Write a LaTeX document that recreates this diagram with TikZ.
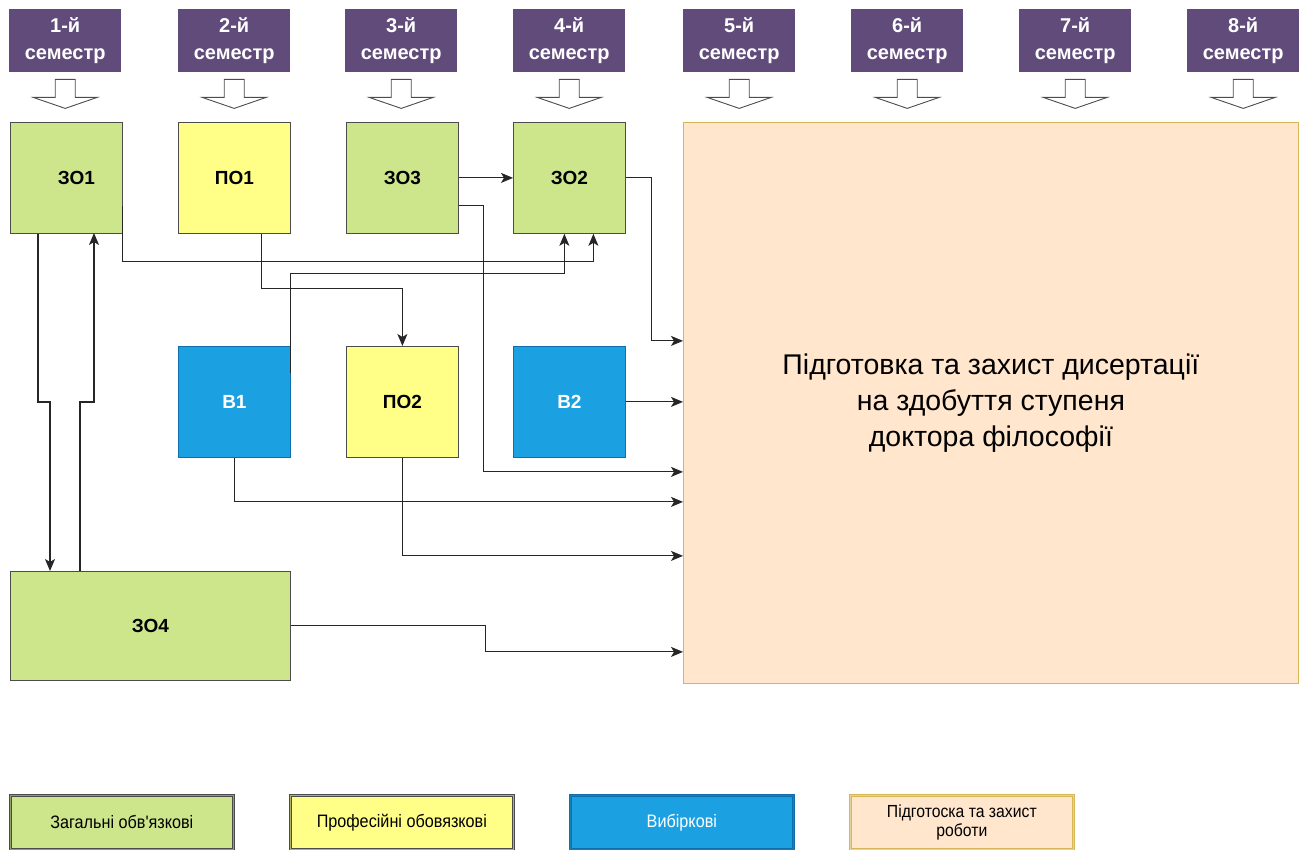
\documentclass[tikz,border=0pt]{standalone}
\usepackage{fontspec}
\setmainfont{Liberation Sans}
\newfontfamily\narrowfont[FakeStretch=0.9]{Liberation Sans}
\usetikzlibrary{arrows.meta,positioning}

\definecolor{semfill}{RGB}{96,75,122}
\definecolor{zofill}{RGB}{205,230,140}
\definecolor{pofill}{RGB}{255,255,136}
\definecolor{vfill}{RGB}{27,161,226}
\definecolor{vborder}{RGB}{16,110,170}
\definecolor{dfill}{RGB}{255,230,204}
\definecolor{dborder}{RGB}{214,182,86}

\begin{document}
\begin{tikzpicture}[x=1pt,y=-1pt,
  sem/.style={fill=semfill,text=white,font=\bfseries\fontsize{20}{27}\selectfont,
    align=center,minimum width=112pt,minimum height=63pt,anchor=north west,inner sep=0pt},
  semarrow/.style={draw=black!70,fill=white,line width=.9pt},
  blk/.style={draw=black!70,line width=.8pt,minimum width=112pt,minimum height=111pt,
    anchor=north west,inner sep=0pt,font=\bfseries\fontsize{19}{22}\selectfont},
  zo/.style={blk,fill=zofill},
  po/.style={blk,fill=pofill},
  vb/.style={blk,fill=vfill,draw=vborder,text=white},
  con/.style={draw=black!85,line width=1.1pt,-{Stealth[length=12pt,width=10pt,inset=3pt]}},
  leg/.style={minimum width=223pt,minimum height=54pt,anchor=north west,inner sep=0pt,
    align=center,line width=.7pt,double distance=1pt,
    font=\narrowfont\fontsize{18}{20}\selectfont}]

  \useasboundingbox (0,0) rectangle (1302,850);

  \node[sem] (s1) at (9,9) {1-й\\семестр};
  \node[sem] (s2) at (178,9) {2-й\\семестр};
  \node[sem] (s3) at (345,9) {3-й\\семестр};
  \node[sem] (s4) at (513,9) {4-й\\семестр};
  \node[sem] (s5) at (683,9) {5-й\\семестр};
  \node[sem] (s6) at (851,9) {6-й\\семестр};
  \node[sem] (s7) at (1019,9) {7-й\\семестр};
  \node[sem] (s8) at (1187,9) {8-й\\семестр};

  \draw[semarrow] (s1.south) ++(-10,7) -- ++(0,18) -- ++(-22,0) -- ++(32,11) -- ++(32,-11) -- ++(-22,0) -- ++(0,-18) -- cycle;
  \draw[semarrow] (s2.south) ++(-10,7) -- ++(0,18) -- ++(-22,0) -- ++(32,11) -- ++(32,-11) -- ++(-22,0) -- ++(0,-18) -- cycle;
  \draw[semarrow] (s3.south) ++(-10,7) -- ++(0,18) -- ++(-22,0) -- ++(32,11) -- ++(32,-11) -- ++(-22,0) -- ++(0,-18) -- cycle;
  \draw[semarrow] (s4.south) ++(-10,7) -- ++(0,18) -- ++(-22,0) -- ++(32,11) -- ++(32,-11) -- ++(-22,0) -- ++(0,-18) -- cycle;
  \draw[semarrow] (s5.south) ++(-10,7) -- ++(0,18) -- ++(-22,0) -- ++(32,11) -- ++(32,-11) -- ++(-22,0) -- ++(0,-18) -- cycle;
  \draw[semarrow] (s6.south) ++(-10,7) -- ++(0,18) -- ++(-22,0) -- ++(32,11) -- ++(32,-11) -- ++(-22,0) -- ++(0,-18) -- cycle;
  \draw[semarrow] (s7.south) ++(-10,7) -- ++(0,18) -- ++(-22,0) -- ++(32,11) -- ++(32,-11) -- ++(-22,0) -- ++(0,-18) -- cycle;
  \draw[semarrow] (s8.south) ++(-10,7) -- ++(0,18) -- ++(-22,0) -- ++(32,11) -- ++(32,-11) -- ++(-22,0) -- ++(0,-18) -- cycle;

  \node[zo] (zo1) at (10,122) {\hspace*{20pt}ЗО1};
  \node[po] (po1) at (178,122) {ПО1};
  \node[zo] (zo3) at (346,122) {ЗО3};
  \node[zo] (zo2) at (513,122) {ЗО2};
  \node[vb] (b1) at (178,346) {В1};
  \node[po] (po2) at (346,346) {ПО2};
  \node[vb] (b2) at (513,346) {В2};
  \node[zo,minimum width=280pt,minimum height=109pt] (zo4) at (10,571) {ЗО4};
  \node[blk,fill=dfill,draw=dborder,minimum width=615pt,minimum height=561pt,
    font=\fontsize{28.5}{36}\selectfont,align=center] (big) at (683,122)
    {Підготовка та захист дисертації\\на здобуття ступеня\\доктора філософії};

  \draw[con] ([xshift=28pt]zo1.south west) |- (50,402) -- (50,571);
  \draw[con] ([xshift=70pt]zo4.north west) |- (94,402) -- (94,233);
  \draw[con] ([yshift=-28pt]zo1.east) -- ++(0,56) -| ([xshift=24pt]zo2.south);
  \draw[con] ([yshift=29pt]b1.east) -- ++(0,-99) -| ([xshift=-5pt]zo2.south);
  \draw[con] ([xshift=27pt]po1.south) -- ++(0,55) -| (po2.north);
  \draw[con] (zo3.east) -- (zo2.west);
  \draw[con] ([yshift=-28pt]zo3.east) -- ++(25,0) |- ([yshift=-69pt]big.west);
  \draw[con] (zo2.east) -- ++(26,0) |- ([yshift=62pt]big.west);
  \draw[con] (b2.east) -- (b2.east -| big.west);
  \draw[con] (b1.south) |- ([yshift=-99pt]big.west);
  \draw[con] (po2.south) |- ([yshift=-153pt]big.west);
  \draw[con] (zo4.east) -- ++(195,0) |- ([yshift=-249pt]big.west);

  \node[leg,fill=zofill,draw=black!70,double=zofill!70!black] (l1) at (10,795) {Загальні обв'язкові};
  \node[leg,fill=pofill,draw=black!70,double=pofill!70!black] (l2) at (290,795) {Професійні обовязкові};
  \node[leg,fill=vfill,draw=vborder,double=vfill!80!black,text=white] (l3) at (570,795) {Вибіркові};
  \node[leg,fill=dfill,draw=dborder,double=dborder!60!white,font=\narrowfont\fontsize{17.5}{19}\selectfont] (l4) at (850,795) {Підготоска та захист\\роботи};
\end{tikzpicture}
\end{document}
